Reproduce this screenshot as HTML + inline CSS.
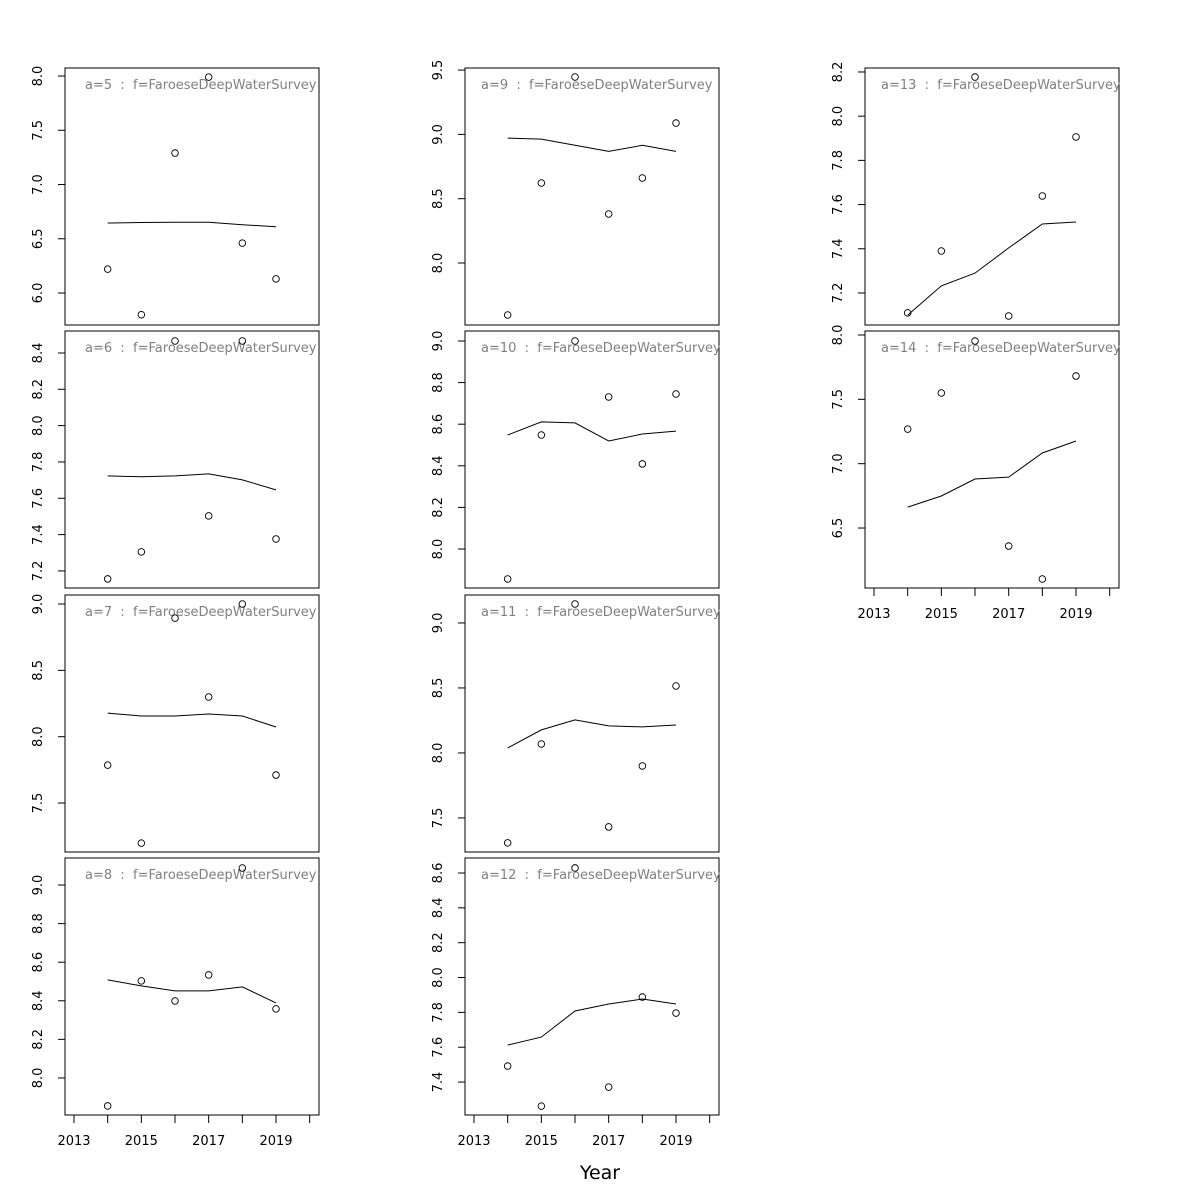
<!DOCTYPE html>
<html><head><meta charset="utf-8"><style>
html,body{margin:0;padding:0;background:#fff;}
svg{display:block;font-family:"DejaVu Sans","Liberation Sans",sans-serif;}
text{white-space:pre;}
</style></head><body>
<svg id="chart" width="1200" height="1200" viewBox="0 0 1200 1200" xmlns="http://www.w3.org/2000/svg" xml:space="preserve">
<text x="600" y="1179" font-size="19" text-anchor="middle">Year</text>
</svg>
<script>
const years = [2014, 2015, 2016, 2017, 2018, 2019];
const xTicks = [2013, 2014, 2015, 2016, 2017, 2018, 2019, 2020];
const xTickLabels = [2013, 2015, 2017, 2019];
const panelAges = [5, 6, 7, 8, 9, 10, 11, 12, 13, 14];
const panelCols = [0, 0, 0, 0, 1, 1, 1, 1, 2, 2];
const panelRows = [0, 1, 2, 3, 0, 1, 2, 3, 0, 1];
const yMin = [5.705, 7.106, 7.131, 7.808, 7.518, 7.8125, 7.238, 7.211, 7.055, 6.034];
const yMax = [8.074, 8.521, 9.068, 9.140, 9.516, 9.048, 9.215, 8.686, 8.218, 8.031];
const yTicks = [
  [6.0, 6.5, 7.0, 7.5, 8.0],
  [7.2, 7.4, 7.6, 7.8, 8.0, 8.2, 8.4],
  [7.5, 8.0, 8.5, 9.0],
  [8.0, 8.2, 8.4, 8.6, 8.8, 9.0],
  [8.0, 8.5, 9.0, 9.5],
  [8.0, 8.2, 8.4, 8.6, 8.8, 9.0],
  [7.5, 8.0, 8.5, 9.0],
  [7.4, 7.6, 7.8, 8.0, 8.2, 8.4, 8.6],
  [7.2, 7.4, 7.6, 7.8, 8.0, 8.2],
  [6.5, 7.0, 7.5, 8.0]
];
const observed = [
  [6.22, 5.80, 7.29, 7.99, 6.46, 6.13],
  [7.156, 7.305, 8.466, 7.503, 8.466, 7.376],
  [7.786, 7.198, 8.894, 8.299, 9.0, 7.711],
  [7.855, 8.503, 8.399, 8.534, 9.088, 8.358],
  [7.596, 8.622, 9.446, 8.381, 8.661, 9.088],
  [7.856, 8.548, 9.0, 8.731, 8.409, 8.745],
  [7.308, 8.069, 9.146, 7.431, 7.9, 8.515],
  [7.492, 7.262, 8.629, 7.371, 7.888, 7.796],
  [7.110, 7.390, 8.177, 7.096, 7.639, 7.906],
  [7.269, 7.549, 7.953, 6.360, 6.104, 7.681]
];
const fitted = [
  [6.645, 6.65, 6.652, 6.652, 6.63, 6.61],
  [7.723, 7.718, 7.723, 7.734, 7.701, 7.646],
  [8.178, 8.156, 8.156, 8.171, 8.156, 8.073],
  [8.508, 8.477, 8.451, 8.451, 8.472, 8.389],
  [8.971, 8.963, 8.915, 8.868, 8.915, 8.868],
  [8.548, 8.611, 8.606, 8.519, 8.553, 8.567],
  [8.038, 8.177, 8.254, 8.208, 8.2, 8.215],
  [7.612, 7.658, 7.808, 7.848, 7.877, 7.848],
  [7.100, 7.232, 7.290, 7.404, 7.512, 7.521],
  [6.663, 6.749, 6.881, 6.896, 7.083, 7.176]
];

const NS = "http://www.w3.org/2000/svg";
const svg = document.getElementById('chart');
const colX = [65, 465, 865], panelW = 254;
const rowY = [68, 331, 595, 858], panelH = 257;
function mk(tag, attrs, parent) {
  const e = document.createElementNS(NS, tag);
  for (const k in attrs) e.setAttribute(k, attrs[k]);
  (parent || svg).appendChild(e);
  return e;
}
function xScale(col, yr) { return colX[col] + 9 + (yr - 2013) * 33.67; }

panelAges.forEach((age, i) => {
  const c = panelCols[i], r = panelRows[i];
  const x0 = colX[c], y0 = rowY[r];
  const ys = v => y0 + panelH - (v - yMin[i]) / (yMax[i] - yMin[i]) * panelH;
  const g = mk('g', {});
  
  
  const box = mk('rect', {x: x0, y: y0, width: panelW, height: panelH, fill: 'none', stroke: '#000', 'stroke-width': 1}, g);
  
  
  const t = mk('text', {x: x0 + (c === 0 ? 20 : 16), y: y0 + 21, 'font-size': 13, fill: '#808080'}, g);
  t.textContent = 'a=' + age + '  :  f=FaroeseDeepWaterSurvey';
  
  
  yTicks[i].forEach(v => {
    const y = ys(v);
    const tk = mk('line', {x1: x0 - 7, x2: x0, y1: y, y2: y, stroke: '#000'}, g);
    
    
    const lx = x0 - 23;
    const tl = mk('text', {x: lx, y: y, 'font-size': 13, 'text-anchor': 'middle', transform: 'rotate(-90 ' + lx + ' ' + y + ')'}, g);
    tl.textContent = v.toFixed(1);
    
    
  });
  const pts = years.map((yr, k) => xScale(c, yr).toFixed(1) + ',' + ys(fitted[i][k]).toFixed(1)).join(' ');
  const pl = mk('polyline', {points: pts, fill: 'none', stroke: '#000', 'stroke-width': 1}, g);
  
  
  years.forEach((yr, k) => {
    const p = mk('circle', {cx: xScale(c, yr), cy: ys(observed[i][k]), r: 3.3, fill: 'none', stroke: '#000', 'stroke-width': 0.9}, g);
    
    
  });
  const isBottom = (c < 2 && r === 3) || (c === 2 && r === 1);
  if (isBottom) {
    const ay = y0 + panelH;
    const ax = mk('line', {x1: xScale(c, 2013), x2: xScale(c, 2020), y1: ay, y2: ay, stroke: '#000'}, g);
    
    
    xTicks.forEach(yr => {
      const tk = mk('line', {x1: xScale(c, yr), x2: xScale(c, yr), y1: ay, y2: ay + 8, stroke: '#000'}, g);
      
      
    });
    xTickLabels.forEach(yr => {
      const tl = mk('text', {x: xScale(c, yr), y: ay + 30, 'font-size': 13, 'text-anchor': 'middle'}, g);
      tl.textContent = yr;
      
      
    });
  }
});
</script>
</body></html>
